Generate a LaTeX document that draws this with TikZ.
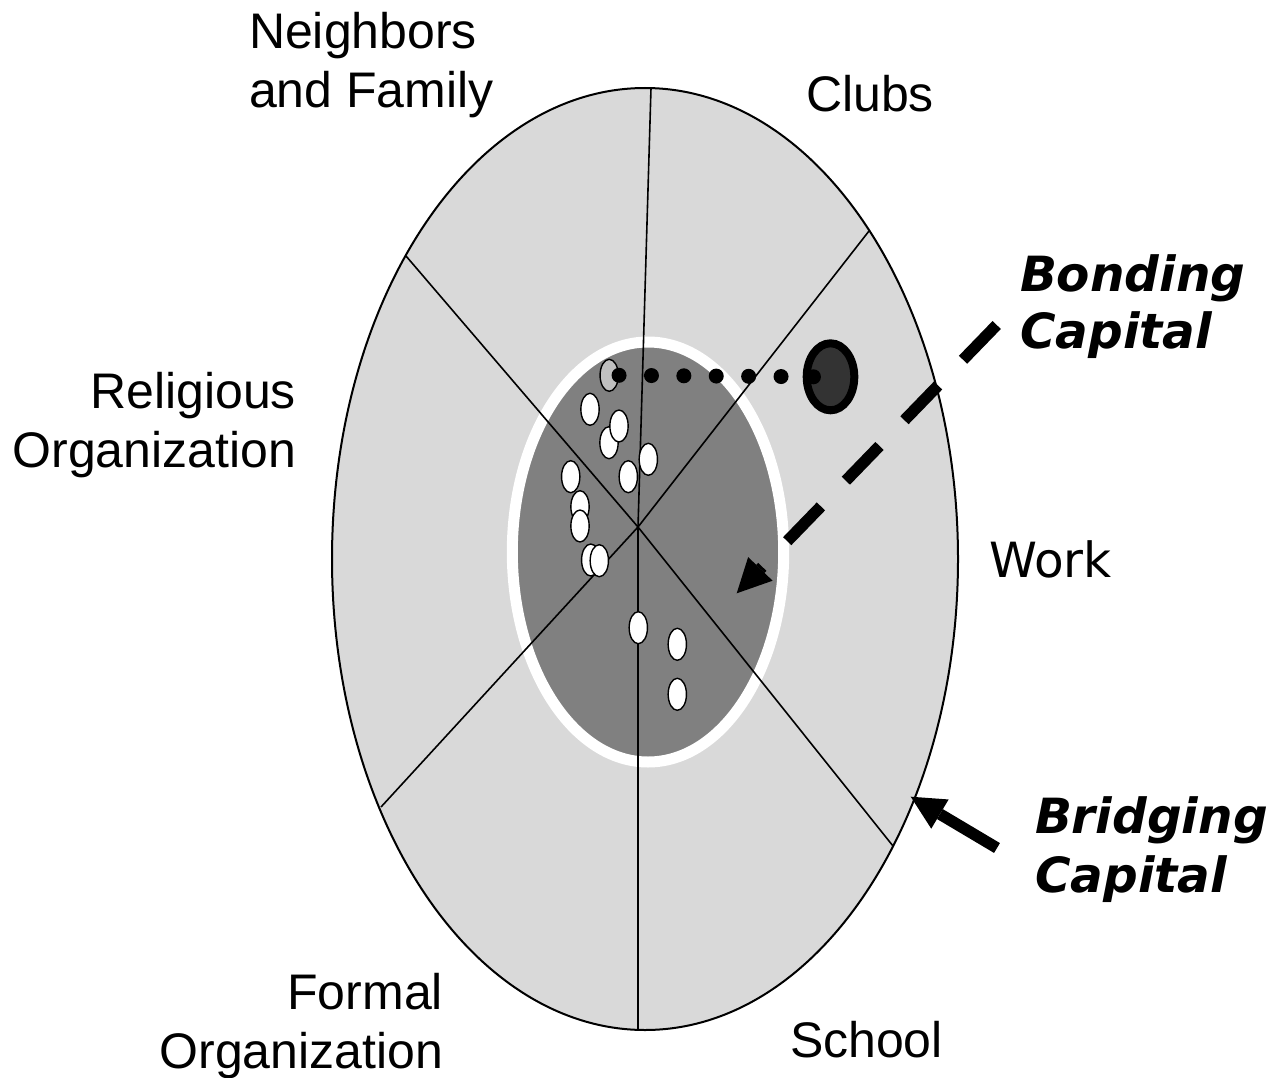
\documentclass[tikz,border=0pt]{standalone}
\usepackage{fontspec}
\setmainfont{Liberation Sans}
\newfontfamily\dvs{DejaVu Sans}
\usetikzlibrary{shapes.geometric,arrows.meta}
\definecolor{outerg}{HTML}{D9D9D9}
\definecolor{innerg}{HTML}{808080}
\definecolor{lightg}{HTML}{C0C0C0}
\definecolor{darkg}{HTML}{333333}
\begin{document}
\begin{tikzpicture}[x=1pt,y=-1pt,
  lbl/.style={inner sep=0pt, outer sep=0pt, font=\fontsize{50}{59}\selectfont},
  worklbl/.style={inner sep=0pt, outer sep=0pt, font=\dvs\fontsize{48.5}{58}\selectfont},
  caplbl/.style={inner sep=0pt, outer sep=0pt, align=left, font=\dvs\bfseries\itshape\fontsize{48.5}{57}\selectfont},
  sector/.style={line width=1.6pt, black},
  guest/.style={ellipse, draw=black, line width=1.4pt, fill=white, minimum width=18.3pt, minimum height=32pt, inner sep=0pt},
  tie/.style={line width=15pt, line cap=round, dash pattern=on 0pt off 32.4pt},
  bond/.style={line width=11.5pt, dash pattern=on 48.4pt off 35.8pt, -{Triangle[length=34pt,width=34pt,line width=0pt]}},
  bridge/.style={line width=11.5pt, -{Triangle[length=34pt,width=34pt,line width=0pt]}}
]
\useasboundingbox (0,0) rectangle (1287,1078);
% outer ellipse
\draw[line width=2pt, fill=outerg] (645,559) ellipse [x radius=313pt, y radius=471pt];
% inner ellipse with white ring
\draw[line width=11pt, draw=white, fill=innerg] (648,552) ellipse [x radius=135.7pt, y radius=210pt];
% sector lines
\coordinate (C) at (638,527);
\coordinate (T) at (651,88);
\coordinate (B) at (638,1030);
\coordinate (NW) at (406,256);
\coordinate (NE) at (869,231);
\coordinate (SE) at (893,846);
\coordinate (SW) at (381,807);
\foreach \p in {T,B,NW,NE,SE,SW} \draw[sector] (C) -- (\p);
% people
\node[guest, fill=lightg] (p1) at (609.2,375.3) {};
\node[guest] (p2) at (590,409.3) {};
\node[guest] (p4) at (609,442.7) {};
\node[guest] (p3) at (619,426) {};
\node[guest] (p5) at (648.3,459.3) {};
\node[guest] (p6) at (628.3,476.7) {};
\node[guest] (p7) at (570.7,476.7) {};
\node[guest] (p8) at (580,506.7) {};
\node[guest] (p9) at (580,526) {};
\node[guest] (p10) at (590.7,560) {};
\node[guest] (p11) at (599.3,560.7) {};
\node[guest] (p12) at (638.3,627.7) {};
\node[guest] (p13) at (677.3,644.3) {};
\node[guest] (p14) at (677.3,694.3) {};
% distant contact
\node[ellipse, draw=black, line width=8pt, fill=darkg, minimum width=47.6pt, minimum height=67pt, inner sep=0pt, outer sep=0pt] (dk) at (830.5,376.8) {};
\draw[tie] (p1.east) -- ([xshift=-17pt]dk.center);
% arrows
\coordinate (bs) at (996.7,325);
\coordinate (be) at (736.7,593.3);
\draw[bond] (bs) -- (be);
\coordinate (rs) at (997,848);
\coordinate (re) at (910.7,796.7);
\draw[bridge] (rs) -- (re);
% labels (base anchor = baseline of the last line)
\node[lbl, anchor=base west, align=left] (nf) at (249,107.3) {Neighbors\\and Family};
\node[lbl, anchor=base west] (cl) at (806,112) {Clubs};
\node[lbl, anchor=base east, align=right] (ro) at (296,467.3) {Religious\\Organization};
\node[worklbl, anchor=base west] (wk) at (989,577) {Work};
\node[lbl, anchor=base east, align=right] (fo) at (443,1068) {Formal\\Organization};
\node[lbl, anchor=base west] (sc) at (790,1057) {School};
\node[caplbl, anchor=base west] (bc) at (1020,348) {Bonding\\Capital};
\node[caplbl, anchor=base west, font=\dvs\bfseries\itshape\fontsize{48.5}{59}\selectfont] (brc) at (1035,892) {Bridging\\Capital};
\end{tikzpicture}
\end{document}
